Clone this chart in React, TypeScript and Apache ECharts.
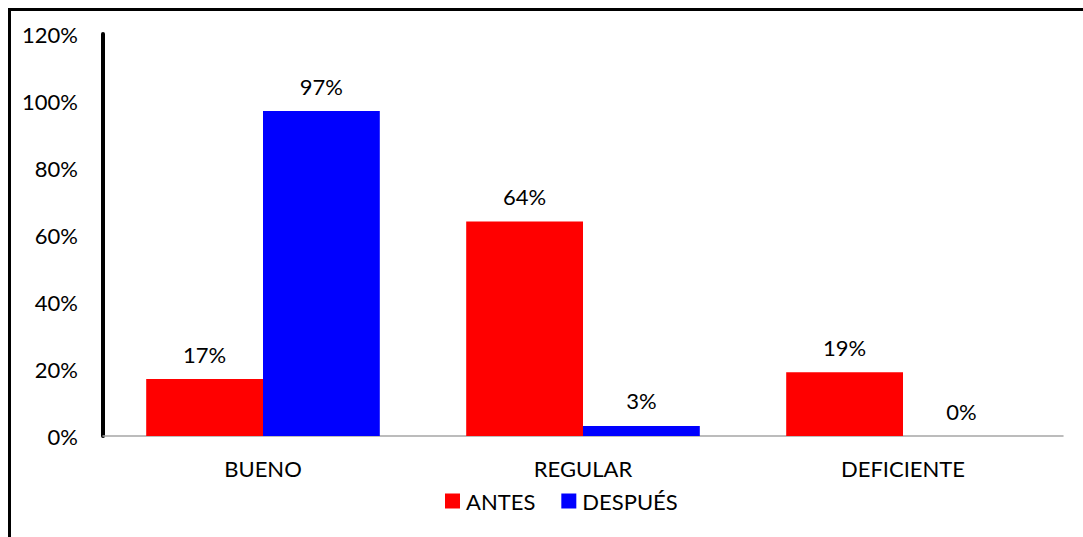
import React, { useEffect, useRef } from "react";
import * as echarts from "echarts";

const categories = ["BUENO", "REGULAR", "DEFICIENTE"];
const antes = [17, 64, 19];
const despues = [97, 3, 0];
const seriesNames = ["ANTES", "DESPUÉS"];

const FONT = "Lato, 'Open Sans', sans-serif";
const FS = 22;

export default function App() {
  const ref = useRef<HTMLDivElement>(null);
  useEffect(() => {
    if (!ref.current) return;
    const chart = echarts.init(ref.current, null, { renderer: "svg" });
    const label = {
      show: true,
      position: "top",
      distance: 14,
      formatter: "{c}%",
      color: "#000",
      fontSize: FS,
      fontFamily: FONT,
    };
    chart.setOption({
      animation: false,
      backgroundColor: "#fff",
      textStyle: { fontFamily: FONT },
      grid: { left: 103, right: 20, top: 34, bottom: 101, containLabel: false },
      legend: {
        data: seriesNames,
        bottom: 20,
        left: 440,
        itemWidth: 15,
        itemHeight: 15,
        itemGap: 26,
        icon: "rect",
        textStyle: { fontSize: FS, color: "#000", fontFamily: FONT, padding: [0, 0, 0, 1] },
      },
      xAxis: {
        type: "category",
        data: categories,
        axisLine: { lineStyle: { color: "#a6a6a6", width: 1.5 } },
        axisTick: { show: false },
        axisLabel: { color: "#000", fontSize: FS, fontFamily: FONT, margin: 21 },
      },
      yAxis: {
        type: "value",
        min: 0,
        max: 120,
        interval: 20,
        axisLine: { show: true, lineStyle: { color: "#000", width: 4 } },
        axisTick: { show: false },
        splitLine: { show: false },
        axisLabel: {
          color: "#000",
          fontSize: FS,
          fontFamily: FONT,
          formatter: "{value}%",
          margin: 25,
        },
      },
      series: [
        {
          name: seriesNames[0],
          type: "bar",
          data: antes,
          itemStyle: { color: "#ff0000" },
          barGap: "0%",
          barCategoryGap: "27%",
          label,
        },
        {
          name: seriesNames[1],
          type: "bar",
          data: despues,
          itemStyle: { color: "#0000ff" },
          barGap: "0%",
          barCategoryGap: "27%",
          label,
        },
      ],
      graphic: [
        {
          type: "line",
          shape: { x1: 8, y1: 9.5, x2: 1083, y2: 9.5 },
          style: { stroke: "#000", lineWidth: 3 },
        },
        {
          type: "line",
          shape: { x1: 9.5, y1: 8, x2: 9.5, y2: 537 },
          style: { stroke: "#000", lineWidth: 3 },
        },
      ],
    });
    return () => chart.dispose();
  }, []);
  return (
    <div
      ref={ref}
      style={{ position: "fixed", left: 0, top: 0, width: 1083, height: 537 }}
    />
  );
}
